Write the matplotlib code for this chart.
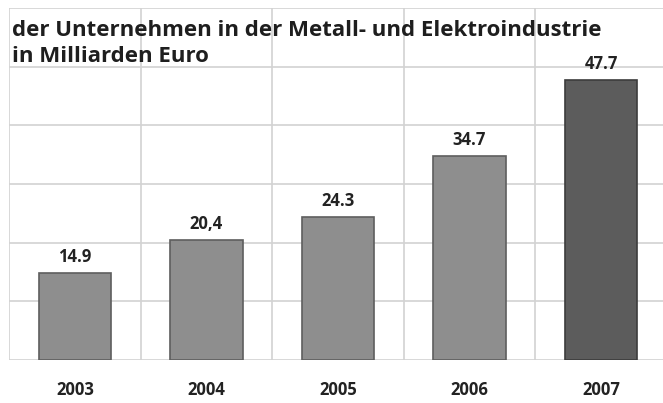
import matplotlib
matplotlib.use("Agg")
import matplotlib.pyplot as plt

years = ["2003", "2004", "2005", "2006", "2007"]
values = [14.9, 20.4, 24.3, 34.7, 47.7]
value_labels = ["14.9", "20,4", "24.3", "34.7", "47.7"]
bar_colors = ["#8e8e8e", "#8e8e8e", "#8e8e8e", "#8e8e8e", "#5c5c5c"]
edge_colors = ["#5e5e5e", "#5e5e5e", "#5e5e5e", "#5e5e5e", "#3c3c3c"]
title_lines = ["der Unternehmen in der Metall- und Elektroindustrie", "in Milliarden Euro"]

W, H = 663, 403
fig = plt.figure(figsize=(W / 100, H / 100), dpi=100)
left_px, right_px = 9.25, 666.75
ax = fig.add_axes([left_px / W, (H - 360) / H, (right_px - left_px) / W, (360 - 8) / H])

x = list(range(len(years)))
ax.bar(x, values, width=0.555, color=bar_colors, edgecolor=edge_colors, linewidth=1.2, zorder=3)
ax.set_xlim(-0.5, 4.5)
ax.set_ylim(0, 60)

for gy in range(0, 61, 10):
    ax.axhline(gy, color="#d2d2d2", linewidth=1.2, zorder=1)
for gx in [-0.5, 0.5, 1.5, 2.5, 3.5]:
    ax.axvline(gx, color="#d2d2d2", linewidth=1.2, zorder=1)

for xi, v, lab in zip(x, values, value_labels):
    ax.annotate(lab, (xi, v), xytext=(0, 5), textcoords="offset points",
                ha="center", va="bottom", fontsize=12, fontweight="bold",
                family="Open Sans", color="#222222", zorder=4)

for s in ax.spines.values():
    s.set_visible(False)
ax.set_yticks([])
ax.set_xticks(x)
ax.set_xticklabels(years, fontsize=12, fontweight="bold", family="Open Sans", color="#222222")
ax.tick_params(axis="x", length=0, pad=15)

fig.text(12 / W, 1 - 30 / H, title_lines[0], fontsize=16, fontweight="bold",
         family="Open Sans", color="#1e1e1e", va="center", ha="left")
fig.text(12 / W, 1 - 57 / H, title_lines[1], fontsize=16, fontweight="bold",
         family="Open Sans", color="#1e1e1e", va="center", ha="left")

fig.savefig("out.png", dpi=100, facecolor="white")
